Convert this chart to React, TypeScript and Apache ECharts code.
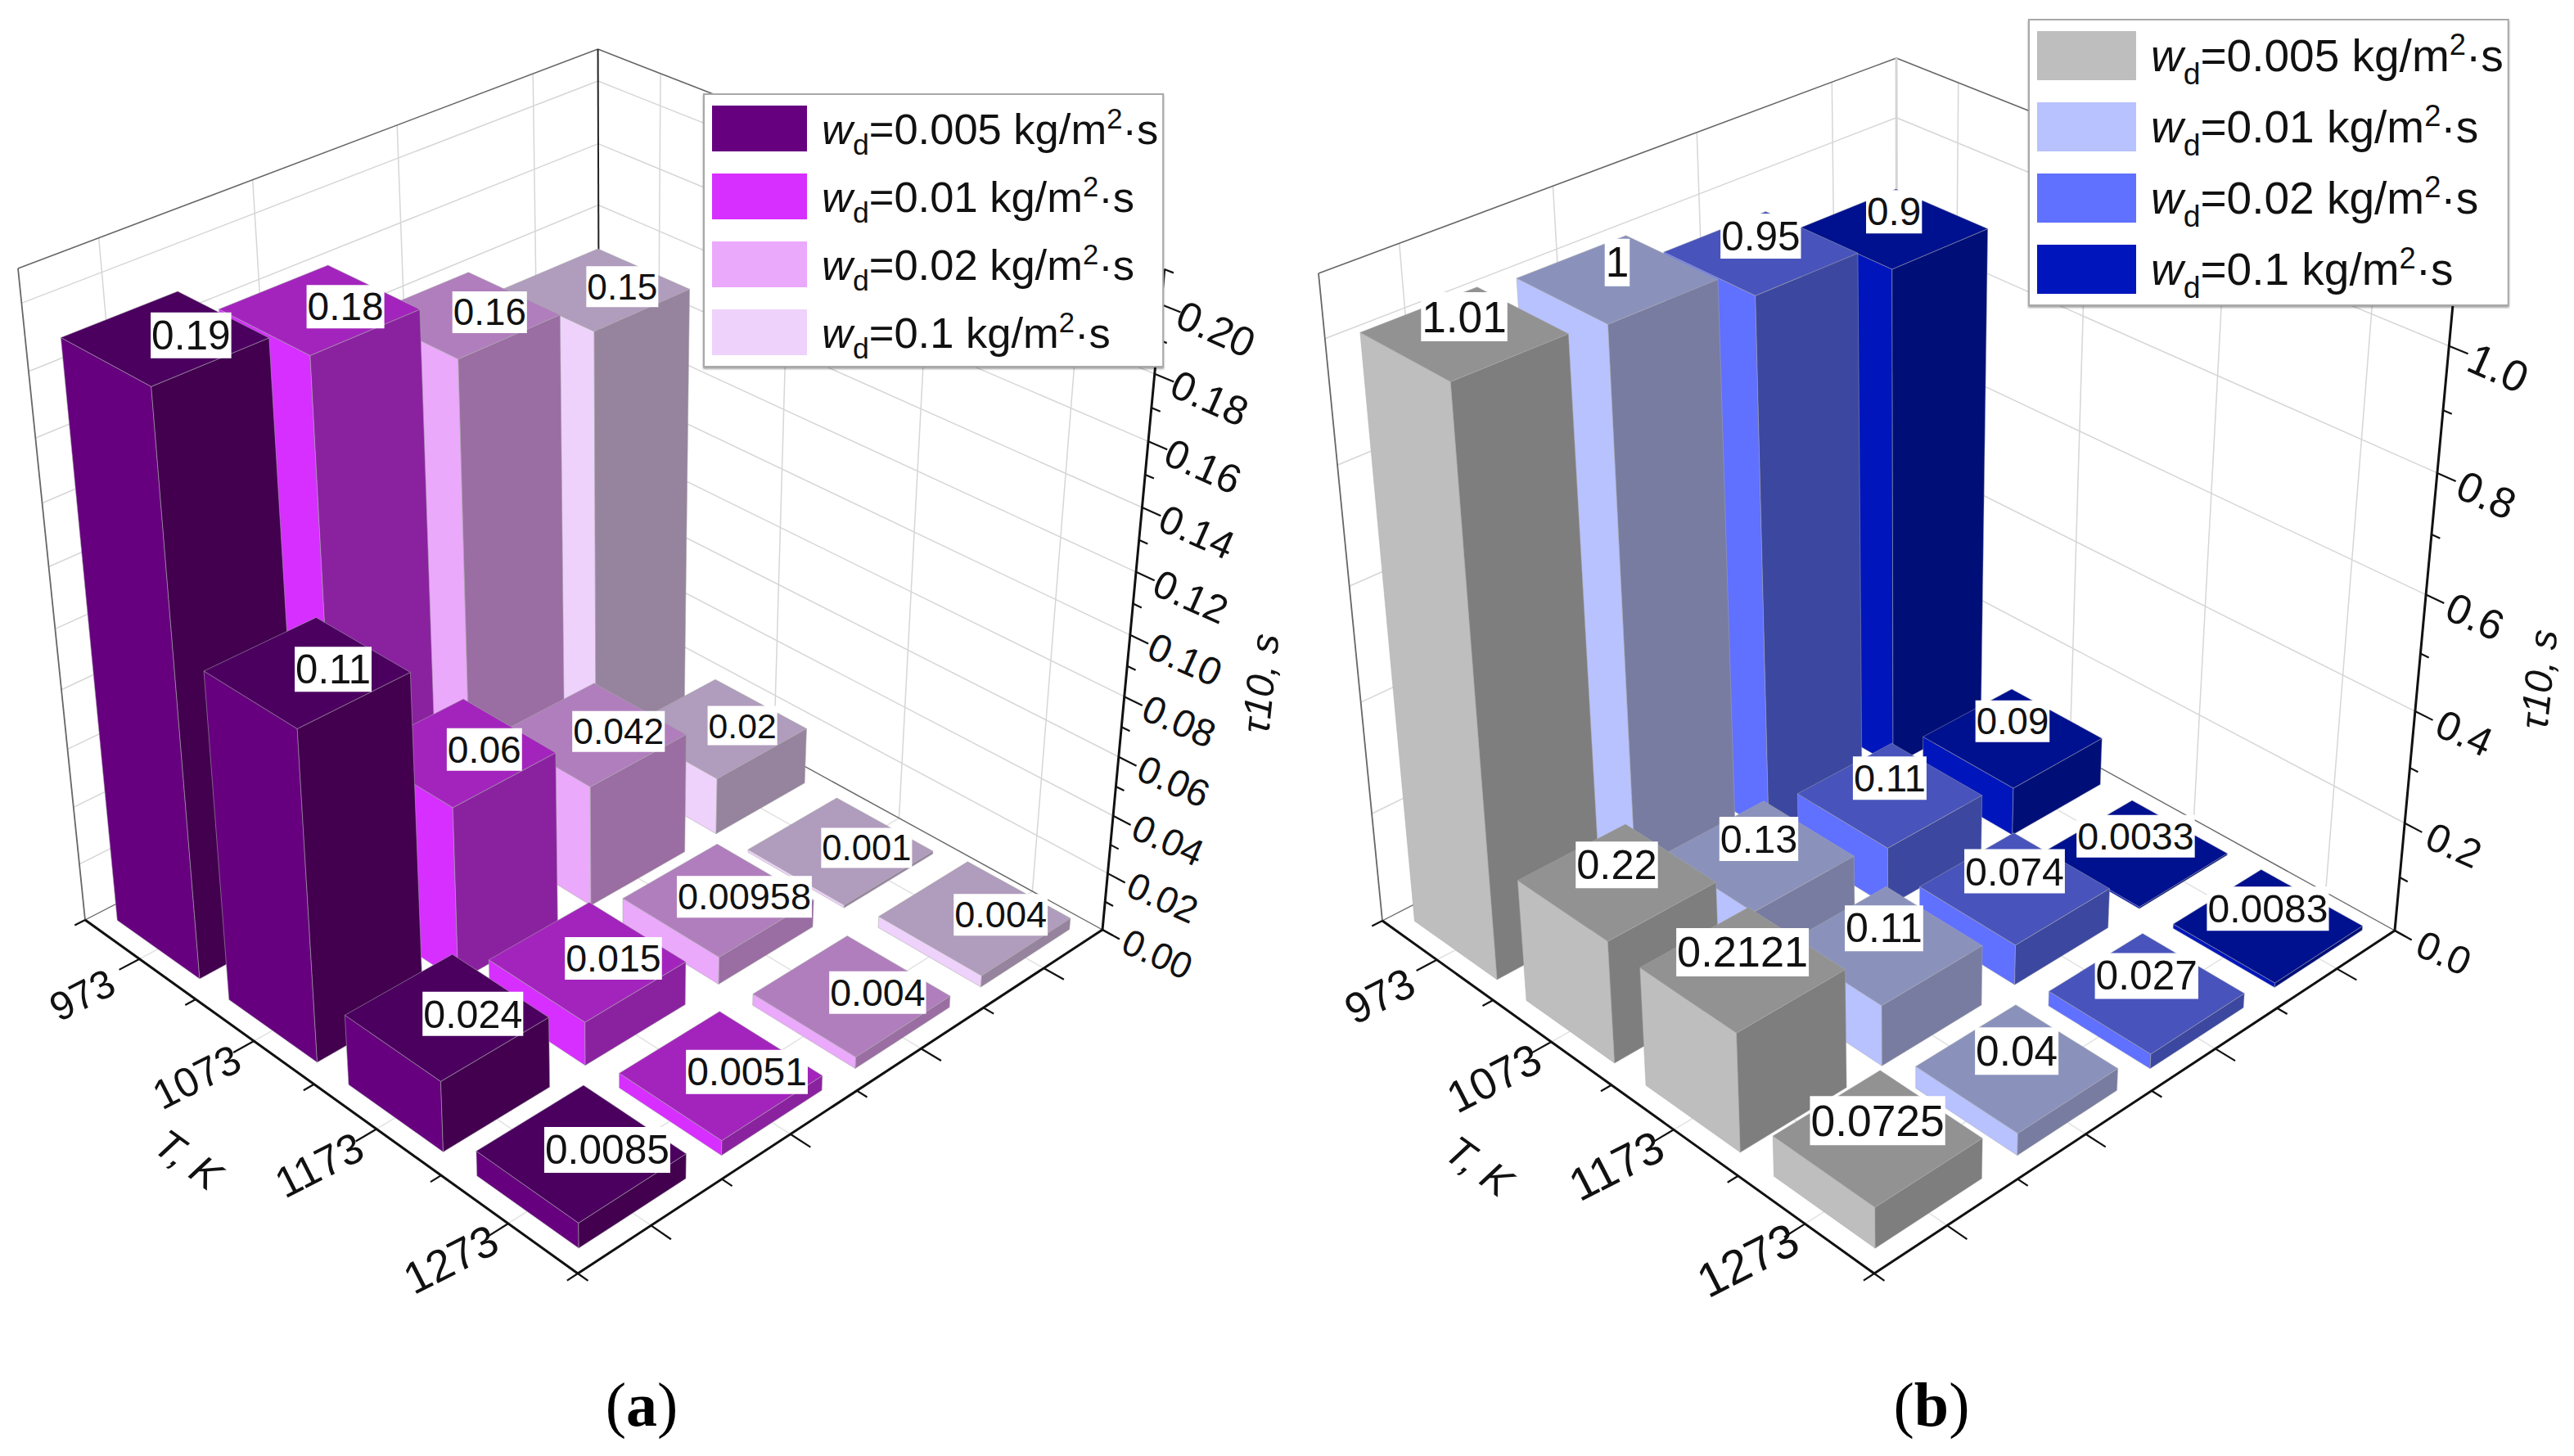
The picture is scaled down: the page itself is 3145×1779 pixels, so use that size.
import React, { useEffect, useRef } from "react";
import * as echarts from "echarts";

const WIDTH = 3145;
const HEIGHT = 1779;

// ---- data -----------------------------------------------------------------
const temperatures = ["973", "1073", "1173", "1273"];
const flowRates = ["0.005", "0.01", "0.02", "0.1"];

const tauA005 = [0.19, 0.11, 0.024, 0.0085];
const tauA001 = [0.18, 0.06, 0.015, 0.0051];
const tauA002 = [0.16, 0.042, 0.00958, 0.004];
const tauA01 = [0.15, 0.02, 0.001, 0.004];

const tauB005 = [1.01, 0.22, 0.2121, 0.0725];
const tauB001 = [1, 0.13, 0.11, 0.04];
const tauB002 = [0.95, 0.11, 0.074, 0.027];
const tauB01 = [0.9, 0.09, 0.0033, 0.0083];

const zTicksA = ["0.00", "0.02", "0.04", "0.06", "0.08", "0.10", "0.12", "0.14", "0.16", "0.18", "0.20"];
const zTicksB = ["0.0", "0.2", "0.4", "0.6", "0.8", "1.0"];

// [side face lit, side face dark, top face]
const coloursA = [
  ["#66007f", "#42004f", "#4b0060"],
  ["#d62fff", "#8a22a0", "#a324bc"],
  ["#eba9fb", "#9a6ea2", "#b07ebd"],
  ["#eed2fb", "#96839e", "#b09cbc"],
];
const coloursB = [
  ["#bebebe", "#7e7e7e", "#929292"],
  ["#b8c2ff", "#787ca0", "#8a92bc"],
  ["#6070ff", "#3c489f", "#4854bc"],
  ["#0016bc", "#000f78", "#00118f"],
];

// ---- 3D projection --------------------------------------------------------
type P = [number, number];
type Panel = {
  key: string;
  A: P; B: P; C: P; D: P; Ap: P; Cp: P;
  zMax: number;
  minorStep: number;
  zTicks: string[];
  labelOffset: P;
  zLabelOffset: P;
  tOffset: P;
  tTitle: P;
  zTitle: P;
  backAxis: { color: string; width: number };
  edge: string;
  fontBase: number;
  barEdge: string;
};

const panelA: Panel = {
  key: "a",
  A: [104, 1124], B: [706, 1556], C: [1347, 1136], D: [733, 799], Ap: [22, 328], Cp: [1422, 337],
  zMax: 0.21, minorStep: 0.02, zTicks: zTicksA,
  labelOffset: [32, -3], zLabelOffset: [67, 30], tOffset: [-70, 44],
  tTitle: [230, 1417], zTitle: [1540, 835],
  backAxis: { color: "#222", width: 2 }, edge: "#666",
  fontBase: 44.5, barEdge: "rgba(170,170,170,0.55)",
};
const panelB: Panel = {
  key: "b",
  A: [1689, 1125], B: [2290, 1556], C: [2926, 1137], D: [2318, 801], Ap: [1611, 334], Cp: [3000, 340],
  zMax: 1.1, minorStep: 0.2, zTicks: zTicksB,
  labelOffset: [0, -20], zLabelOffset: [60, 27], tOffset: [-70, 44],
  tTitle: [1807, 1425], zTitle: [3102, 830],
  backAxis: { color: "#d4d4d4", width: 3 }, edge: "#666",
  fontBase: 47.8, barEdge: "rgba(170,170,170,0.45)",
};

// returns [screen x, screen y, depth]; text is sized by depth, as in the original's 3D scene
function makeProjector(pn: Panel) {
  const [x0, y0] = pn.A, [x1, y1] = pn.B, [x2, y2] = pn.C, [x3, y3] = pn.D;
  const dx1 = x1 - x2, dx2 = x3 - x2, dx3 = x0 - x1 + x2 - x3;
  const dy1 = y1 - y2, dy2 = y3 - y2, dy3 = y0 - y1 + y2 - y3;
  const det = dx1 * dy2 - dx2 * dy1;
  const g = (dx3 * dy2 - dx2 * dy3) / det;
  const h = (dx1 * dy3 - dx3 * dy1) / det;
  const a = x1 - x0 + g * x1, b = x3 - x0 + h * x3;
  const d = y1 - y0 + g * y1, e = y3 - y0 + h * y3;
  // vanishing point of the verticals
  const m1 = (pn.Ap[0] - x0) / (pn.Ap[1] - y0);
  const m2 = (pn.Cp[0] - x2) / (pn.Cp[1] - y2);
  const Vy = (x2 - m2 * y2 - (x0 - m1 * y0)) / (m1 - m2);
  const Vx = x0 + m1 * (Vy - y0);
  const k = (pn.Ap[1] - y0) / (Vy - pn.Ap[1]);
  return (u: number, v: number, w: number): [number, number, number] => {
    const X = a * u + b * v + x0 + k * w * Vx;
    const Y = d * u + e * v + y0 + k * w * Vy;
    const Z = g * u + h * v + 1 + k * w;
    return [X / Z, Y / Z, Z];
  };
}

const halfBar = 0.093;
const cellCentre = (i: number) => (i + 0.5) / 4;
const sansFont = '"Liberation Sans", Arial, sans-serif';

// ---- series builders ------------------------------------------------------
function barSeries(pn: Panel, j: number, values: number[], colours: string[]) {
  const project = makeProjector(pn);
  return {
    type: "custom",
    name: `(${pn.key}) wd=${flowRates[j]}`,
    coordinateSystem: "cartesian2d",
    silent: true,
    clip: false,
    z: 3,
    itemStyle: { color: colours[0] },
    encode: { x: 0, y: 1 },
    data: values.map((v, i) => [i, j, v]),
    renderItem: (_p: any, api: any) => {
      const ui = cellCentre(api.value(0));
      const vi = cellCentre(api.value(1));
      const w = api.value(2) / pn.zMax;
      const pt = (u: number, v: number, z: number) => {
        const q = project(u, v, z);
        return api.coord([q[0], q[1]]);
      };
      const lo = ui - halfBar, hi = ui + halfBar, vl = vi - halfBar, vh = vi + halfBar;
      const stroke = pn.barEdge;
      return {
        type: "group",
        children: [
          {
            type: "polygon",
            shape: { points: [pt(lo, vl, 0), pt(hi, vl, 0), pt(hi, vl, w), pt(lo, vl, w)] },
            style: { fill: colours[0], stroke, lineWidth: 1 },
          },
          {
            type: "polygon",
            shape: { points: [pt(hi, vl, 0), pt(hi, vh, 0), pt(hi, vh, w), pt(hi, vl, w)] },
            style: { fill: colours[1], stroke, lineWidth: 1 },
          },
          {
            type: "polygon",
            shape: { points: [pt(lo, vl, w), pt(hi, vl, w), pt(hi, vh, w), pt(lo, vh, w)] },
            style: { fill: colours[2], stroke, lineWidth: 1 },
          },
        ],
      };
    },
  };
}

function labelSeries(pn: Panel, table: number[][]) {
  const project = makeProjector(pn);
  const rows: number[][] = [];
  table.forEach((vals, j) => vals.forEach((v, i) => rows.push([i, j, v])));
  return {
    type: "custom",
    coordinateSystem: "cartesian2d",
    silent: true,
    clip: false,
    z: 8,
    encode: { x: 0, y: 1 },
    data: rows,
    renderItem: (_p: any, api: any) => {
      const val = api.value(2);
      const q = project(cellCentre(api.value(0)), cellCentre(api.value(1)), val / pn.zMax);
      const [px, py] = api.coord([q[0], q[1]]);
      const size = pn.fontBase / q[2];
      return {
        type: "text",
        x: px + pn.labelOffset[0],
        y: py + pn.labelOffset[1],
        style: {
          text: String(val),
          x: 0, y: 0,
          align: "center",
          verticalAlign: "middle",
          fill: "#111",
          font: `${size.toFixed(1)}px ${sansFont}`,
          backgroundColor: "#fff",
          padding: [0, 1],
          lineHeight: Math.round(size * 1.12),
        },
      };
    },
  };
}

function frameSeries(pn: Panel) {
  const project = makeProjector(pn);
  return {
    type: "custom",
    coordinateSystem: "cartesian2d",
    silent: true,
    clip: false,
    z: 1,
    encode: { x: 0, y: 1 },
    data: [[0, 0]],
    renderItem: (_p: any, api: any) => {
      const pt = (u: number, v: number, z: number) => {
        const q = project(u, v, z);
        return api.coord([q[0], q[1]]);
      };
      const seg = (p: number[], q: number[], color: string, lineWidth: number, extra: any = {}) => ({
        type: "line",
        shape: { x1: p[0], y1: p[1], x2: q[0], y2: q[1] },
        style: { stroke: color, lineWidth, ...extra },
      });
      const kids: any[] = [];
      const grid = "#d6d6d6";
      // walls: horizontal grid lines
      pn.zTicks.forEach((t) => {
        const w = Number(t) / pn.zMax;
        if (w === 0) return;
        kids.push(seg(pt(0, 0, w), pt(0, 1, w), grid, 1.5));
        kids.push(seg(pt(0, 1, w), pt(1, 1, w), grid, 1.5));
      });
      // walls and floor: grid lines at the category centres
      temperatures.forEach((_t, i) => {
        const c = cellCentre(i);
        kids.push(seg(pt(0, c, 0), pt(0, c, 1), grid, 1.5));
        kids.push(seg(pt(c, 1, 0), pt(c, 1, 1), grid, 1.5));
        kids.push(seg(pt(c, 0, 0), pt(c, 1, 0), "#e2e2e2", 1.5));
        kids.push(seg(pt(0, c, 0), pt(1, c, 0), "#e2e2e2", 1.5));
      });
      // frame
      kids.push(seg(pt(0, 0, 1), pt(0, 1, 1), pn.edge, 1.6));
      kids.push(seg(pt(0, 1, 1), pt(1, 1, 1), pn.edge, 1.6));
      kids.push(seg(pt(0, 0, 0), pt(0, 0, 1), pn.edge, 1.8));
      kids.push(seg(pt(0, 1, 0), pt(0, 1, 1), pn.backAxis.color, pn.backAxis.width));
      kids.push(seg(pt(0, 0, 0), pt(0, 1, 0), pn.edge, 1.4));
      kids.push(seg(pt(0, 1, 0), pt(1, 1, 0), pn.edge, 1.4));
      // axes
      const axis = "#111";
      kids.push(seg(pt(0, 0, 0), pt(1, 0, 0), axis, 3));
      kids.push(seg(pt(1, 0, 0), pt(1, 1, 0), axis, 3));
      kids.push(seg(pt(1, 1, 0), pt(1, 1, 1), axis, 3));
      // T and w ticks
      for (let n = 0; n <= 8; n++) {
        const s = n / 8;
        const major = n % 2 === 1;
        const len = major ? 0.035 : 0.018;
        kids.push(seg(pt(s, 0, 0), pt(s, -len, 0), axis, 2.2));
        kids.push(seg(pt(1, s, 0), pt(1 + len, s, 0), axis, 2.2));
      }
      // z ticks
      pn.zTicks.forEach((t) => {
        const w = Number(t) / pn.zMax;
        kids.push(seg(pt(1, 1, w), pt(1.03, 1, w), axis, 2.2));
        const wm = (Number(t) + pn.minorStep / 2) / pn.zMax;
        if (wm <= 1.0001) kids.push(seg(pt(1, 1, wm), pt(1.014, 1, wm), axis, 2.2));
        const [px, py] = pt(1, 1, w);
        const size = pn.fontBase / project(1, 1, w)[2];
        kids.push({
          type: "text",
          x: px + pn.zLabelOffset[0],
          y: py + pn.zLabelOffset[1],
          rotation: (-24 * Math.PI) / 180,
          style: { text: t, x: 0, y: 0, align: "center", verticalAlign: "middle", fill: "#111", font: `${size.toFixed(1)}px ${sansFont}` },
        });
      });
      // T labels
      temperatures.forEach((t, i) => {
        const [px, py] = pt(cellCentre(i), 0, 0);
        const size = (1.08 * pn.fontBase) / project(cellCentre(i), 0, 0)[2];
        kids.push({
          type: "text",
          x: px + pn.tOffset[0],
          y: py + pn.tOffset[1],
          rotation: (27 * Math.PI) / 180,
          style: { text: t, x: 0, y: 0, align: "center", verticalAlign: "middle", fill: "#111", font: `${size.toFixed(1)}px ${sansFont}` },
        });
      });
      // axis titles
      kids.push({
        type: "text",
        x: pn.tTitle[0],
        y: pn.tTitle[1],
        rotation: (-36 * Math.PI) / 180,
        style: { text: "T, K", x: 0, y: 0, align: "center", verticalAlign: "middle", fill: "#111", font: `italic 50px ${sansFont}` },
      });
      kids.push({
        type: "text",
        x: pn.zTitle[0],
        y: pn.zTitle[1],
        rotation: (84 * Math.PI) / 180,
        style: { text: "τ10, s", x: 0, y: 0, align: "center", verticalAlign: "middle", fill: "#111", font: `italic 48px ${sansFont}` },
      });
      return { type: "group", children: kids };
    },
  };
}

function legendFor(pn: Panel, left: number, top: number, itemW: number, itemH: number, font: number, gap: number) {
  const lineBox = itemH + 20;
  return {
    left, top,
    orient: "vertical",
    selectedMode: false,
    icon: "rect",
    padding: [4, 6, 4, 10],
    itemWidth: itemW,
    itemHeight: itemH,
    itemGap: gap - 20,
    z: 20,
    backgroundColor: "#fff",
    borderColor: "#a8a8a8",
    borderWidth: 2,
    shadowColor: "rgba(0,0,0,0.35)",
    shadowBlur: 2,
    shadowOffsetY: 2,
    data: flowRates.map((f) => `(${pn.key}) wd=${f}`),
    formatter: (name: string) => {
      const f = name.split("=")[1];
      return `{w|w}{d|d}{t|=${f} kg/m}{u|2}{t|·s}`;
    },
    textStyle: {
      fontFamily: sansFont,
      fontSize: font,
      color: "#111",
      lineHeight: lineBox,
      rich: {
        w: { fontFamily: sansFont, fontStyle: "italic", fontSize: font, color: "#111", padding: [0, 0, 0, 13], lineHeight: lineBox },
        d: { fontFamily: sansFont, fontSize: font * 0.68, color: "#111", verticalAlign: "bottom", lineHeight: lineBox },
        t: { fontFamily: sansFont, fontSize: font, color: "#111", lineHeight: lineBox },
        u: { fontFamily: sansFont, fontSize: font * 0.66, color: "#111", verticalAlign: "top", padding: [8, 0, 0, 0], lineHeight: lineBox },
      },
    },
  };
}

const captionText = (x: number, letter: string) => ({
  type: "text",
  x,
  y: 1716,
  z: 30,
  style: {
    text: `{p|(}{b|${letter}}{p|)}`,
    align: "center",
    verticalAlign: "middle",
    rich: {
      p: { font: '76px "Liberation Serif", serif', fill: "#000" },
      b: { font: 'bold 76px "Liberation Serif", serif', fill: "#000" },
    },
  },
});

export default function App() {
  const ref = useRef<HTMLDivElement>(null);
  useEffect(() => {
    document.body.style.margin = "0";
    document.body.style.background = "#fff";
    document.body.style.overflow = "hidden";
    const chart = echarts.init(ref.current!, undefined, { renderer: "svg", width: WIDTH, height: HEIGHT });
    const tablesA = [tauA005, tauA001, tauA002, tauA01];
    const tablesB = [tauB005, tauB001, tauB002, tauB01];
    // bars are painted back to front: largest flow rate first, coolest row first
    const order = [3, 2, 1, 0];
    chart.setOption({
      animation: false,
      backgroundColor: "#fff",
      grid: { left: 0, right: 0, top: 0, bottom: 0, containLabel: false },
      xAxis: { type: "value", min: 0, max: WIDTH, show: false },
      yAxis: { type: "value", min: 0, max: HEIGHT, inverse: true, show: false },
      legend: [
        legendFor(panelA, 860, 115, 116, 56, 52.5, 27),
        legendFor(panelB, 2479, 24, 121, 60, 55, 27),
      ],
      graphic: [captionText(784, "a"), captionText(2360, "b")],
      series: [
        frameSeries(panelA),
        ...order.map((j) => barSeries(panelA, j, tablesA[j], coloursA[j])),
        labelSeries(panelA, tablesA),
        frameSeries(panelB),
        ...order.map((j) => barSeries(panelB, j, tablesB[j], coloursB[j])),
        labelSeries(panelB, tablesB),
      ],
    });
    return () => chart.dispose();
  }, []);
  return <div ref={ref} style={{ position: "absolute", left: 0, top: 0, width: WIDTH, height: HEIGHT }} />;
}
